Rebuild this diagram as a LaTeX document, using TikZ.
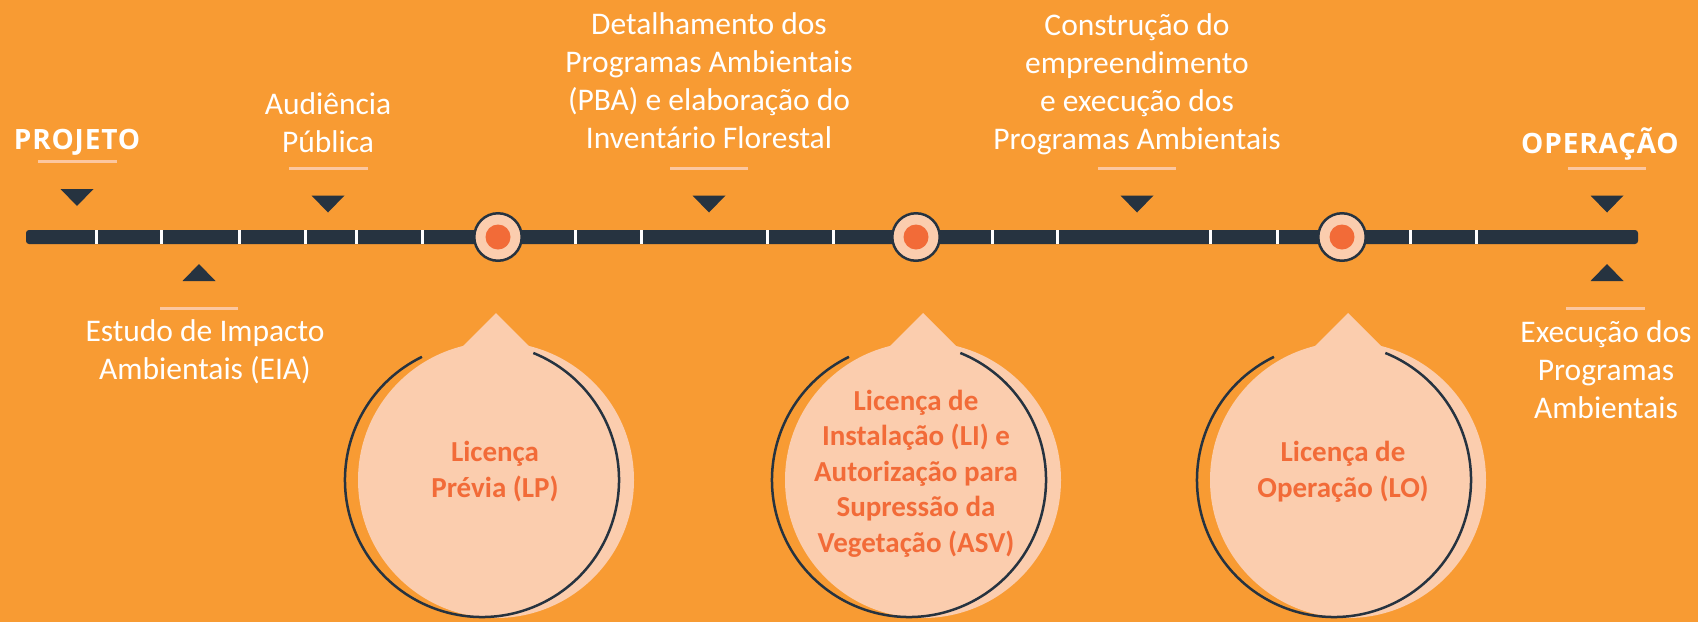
\documentclass[tikz,border=0pt]{standalone}
\usepackage{fontspec}
\setmainfont{Carlito}
\newfontfamily\opensansfont[LetterSpace=3]{Open Sans}
\definecolor{bgorange}{HTML}{F89B33}
\definecolor{darkbar}{HTML}{263340}
\definecolor{peach}{HTML}{FBCDAE}
\definecolor{accent}{HTML}{F26B38}
\definecolor{uline}{HTML}{FCC7A0}
\tikzset{
  lbl/.style={text=white, align=center, font=\fontsize{31.5}{37.7}\selectfont, inner sep=0pt, anchor=base},
  ttl/.style={text=white, font=\opensansfont\bfseries\fontsize{28}{34}\selectfont, inner sep=0pt, anchor=base},
  btxt/.style={text=accent, align=center, font=\bfseries\fontsize{29}{35.5}\selectfont, inner sep=0pt, anchor=base},
  uln/.style={draw=uline, line width=3pt},
  ring/.style={circle, fill=peach, draw=darkbar, line width=2.5pt, minimum size=47.5, inner sep=0pt},
  dot/.style={circle, fill=accent, minimum size=25, inner sep=0pt},
  tickmark/.style={draw=white, line width=3pt},
  tridown/.pic={\fill[darkbar] (-16.5,-8.5) -- (16.5,-8.5) -- (0,8.5) -- cycle;},
  triup/.pic={\fill[darkbar] (-16.5,8.5) -- (16.5,8.5) -- (0,-8.5) -- cycle;},
  bubble/.pic={
    \fill[peach] (0,0) circle[radius=138];
    \fill[peach] (0,-167) -- (60,-107) -- (-60,-107) -- cycle;
    \draw[darkbar, line width=2.5pt] (-14,0) ++(-116:137) arc[start angle=-116, end angle=-428, radius=137];
  }
}
\begin{document}
\begin{tikzpicture}[x=1pt,y=-1pt]
\useasboundingbox (0,0) rectangle (1698,622);
\fill[bgorange] (0,0) rectangle (1698,622);

% bubbles
\pic at (496,480) {bubble};
\pic at (923,480) {bubble};
\pic at (1348,480) {bubble};

% timeline bar
\fill[darkbar, rounded corners=3pt] (26,230) rectangle (1638,244);
\foreach \x in {96,161,239,305,356,422,575,641,767,833,992,1057,1210,1277,1410,1476}
  \draw[tickmark] (\x,230) -- (\x,244);

% milestone circles
\node[ring] (c1) at (498,237) {};
\node[dot] (d1) at (c1) {};
\node[ring] (c2) at (916,237) {};
\node[dot] (d2) at (c2) {};
\node[ring] (c3) at (1342,237) {};
\node[dot] (d3) at (c3) {};

% triangles
\pic at (77,197.5) {tridown};
\pic at (328,204) {tridown};
\pic at (709,204) {tridown};
\pic at (1137,204) {tridown};
\pic at (1607,204) {tridown};
\pic at (199,272.5) {triup};
\pic at (1607,272.5) {triup};

% underlines
\draw[uln] (38,161) -- (117,161);
\draw[uln] (289,168) -- (368,168);
\draw[uln] (670,168) -- (748,168);
\draw[uln] (1098,168) -- (1176,168);
\draw[uln] (1568,168) -- (1646,168);
\draw[uln] (160,308) -- (238,308);
\draw[uln] (1566,308) -- (1645,308);

% top / bottom labels (base = baseline of last line)
\node[ttl] (projeto) at (77,149) {PROJETO};
\node[ttl] (operacao) at (1600,153) {OPERAÇÃO};
\node[lbl] (audiencia) at (328,152) {Audiência\\Pública};
\node[lbl] (eia) at (205,379) {Estudo de Impacto\\Ambientais (EIA)};
\node[lbl] (pba) at (709,148) {Detalhamento dos\\Programas Ambientais\\(PBA) e elaboração do\\Inventário Florestal};
\node[lbl] (constr) at (1137,149) {Construção do\\empreendimento\\e execução dos\\Programas Ambientais};
\node[lbl] (exec) at (1606,418) {Execução dos\\Programas\\Ambientais};

% bubble texts
\node[btxt] (lp) at (495,497) {Licença\\Prévia (LP)};
\node[btxt] (li) at (916,552) {Licença de\\Instalação (LI) e\\Autorização para\\Supressão da\\Vegetação (ASV)};
\node[btxt] (lo) at (1343,497) {Licença de\\Operação (LO)};
\end{tikzpicture}
\end{document}
